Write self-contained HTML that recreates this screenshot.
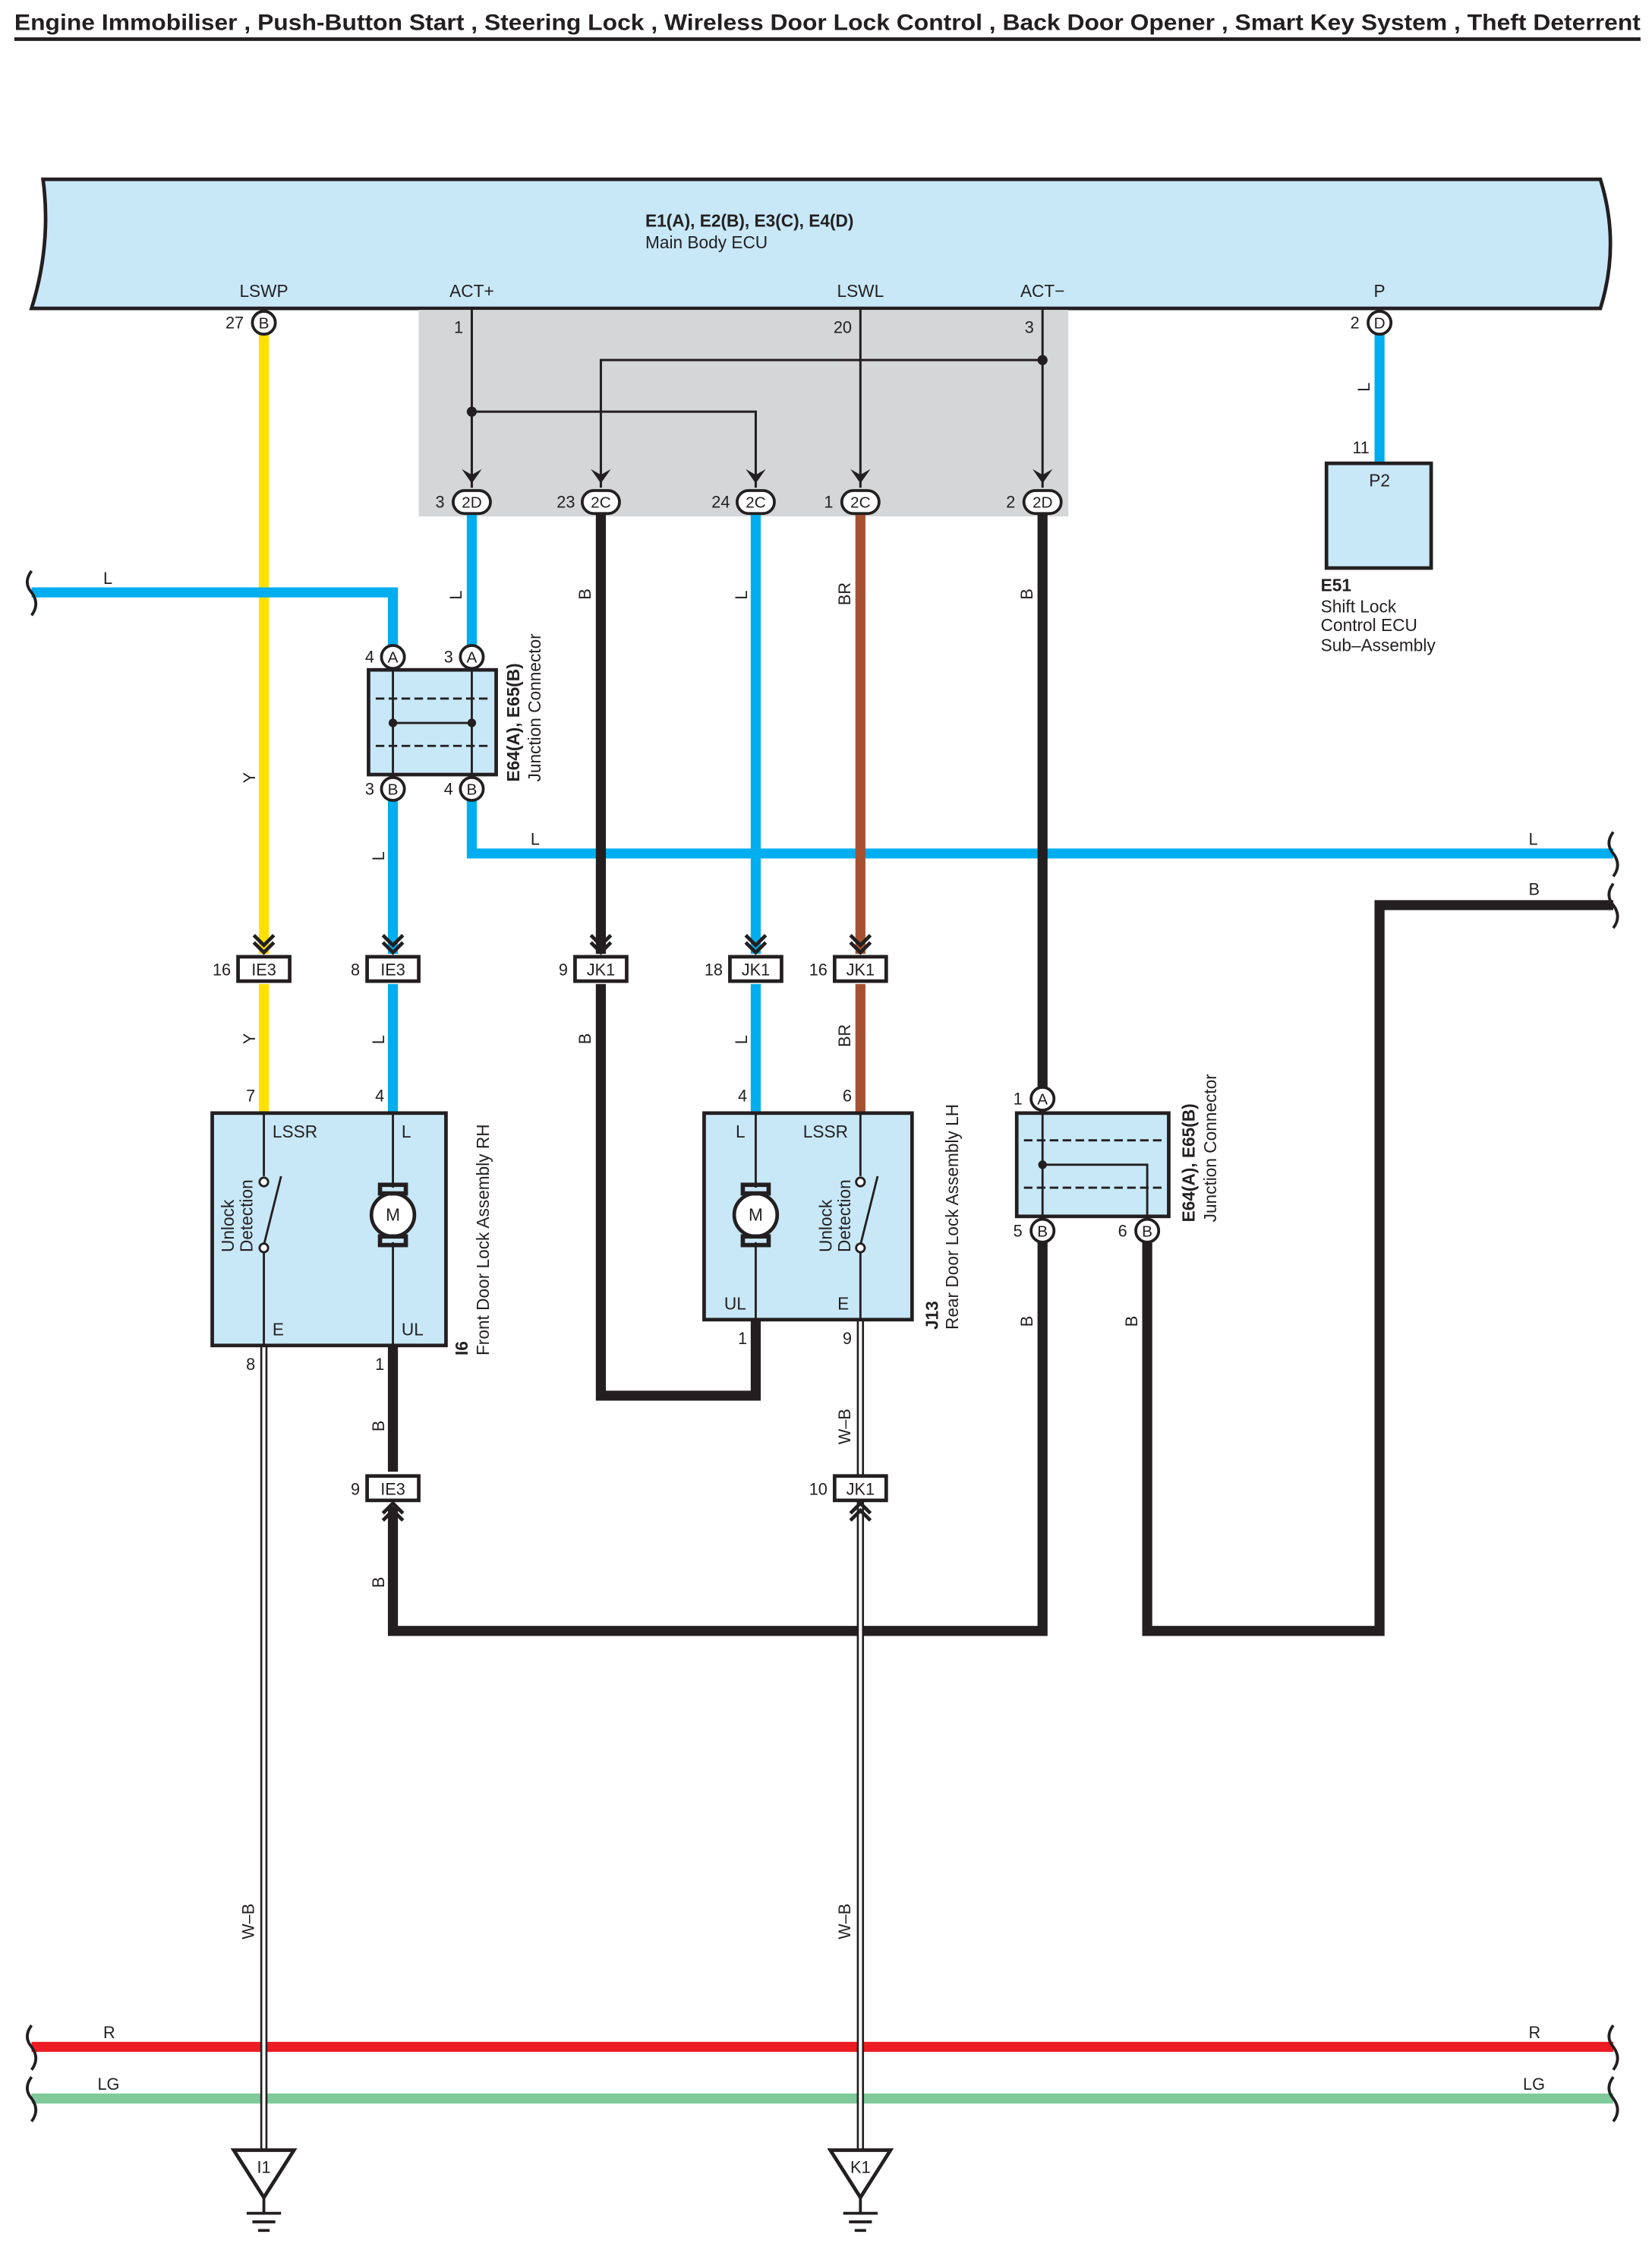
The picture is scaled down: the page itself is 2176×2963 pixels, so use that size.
<!DOCTYPE html>
<html><head><meta charset="utf-8"><style>
html,body{margin:0;padding:0;background:#fff}
svg{display:block}
text{font-family:"Liberation Sans",sans-serif;fill:#231f20}
</style></head><body>
<svg width="2176" height="2963" viewBox="0 0 1152 1568.6" xmlns="http://www.w3.org/2000/svg">
<defs>
<g id="chev"><path d="M-7,-14 L0,-7 L7,-14 M-7,-9 L0,-2 L7,-9" fill="none" stroke="#231f20" stroke-width="2.5"/></g>
<g id="chevup"><path d="M-7,14 L0,7 L7,14 M-7,9 L0,2 L7,9" fill="none" stroke="#231f20" stroke-width="2.5"/></g>
</defs>
<text x="10" y="21" font-size="15.5" font-weight="bold" textLength="1134" lengthAdjust="spacingAndGlyphs">Engine Immobiliser , Push-Button Start , Steering Lock , Wireless Door Lock Control , Back Door Opener , Smart Key System , Theft Deterrent</text>
<rect x="10" y="26" width="1134" height="2.5" fill="#231f20"/>

<path d="M30,125 L1116,125 Q1130,170 1116,215 L22,215 Q36,170 30,125 Z" fill="#c8e8f8" stroke="#231f20" stroke-width="2.5"/>
<text x="450" y="158" font-size="12" font-weight="bold">E1(A), E2(B), E3(C), E4(D)</text>
<text x="450" y="173" font-size="12">Main Body ECU</text>
<g font-size="12" text-anchor="middle">
<text x="184" y="207">LSWP</text><text x="329" y="207">ACT+</text><text x="600" y="207">LSWL</text><text x="727" y="207">ACT−</text><text x="962" y="207">P</text>
</g>
<rect x="292" y="216" width="453" height="144" fill="#d4d6d8"/>

<g fill="none" stroke-width="7" stroke-linejoin="miter">
<path d="M184,232 V665 M184,686 V776" stroke="#ffe000"/>
<path d="M962,232 V322" stroke="#00aeef"/>
<path d="M22,413 H274 V450 M329,357 V450 M274,558 V665 M274,686 V776 M329,558 V595 H1125 M527,357 V665 M527,686 V776" stroke="#00aeef"/>
<path d="M600,357 V665 M600,686 V776" stroke="#a65232"/>
<path d="M419,357 V665 M419,686 V973 H527 V920 M727,357 V758 M727,866 V1137 H274 V1050 M274,938 V1026 M800,866 V1137 H962 V631 H1125" stroke="#231f20"/>
<path d="M22,1427 H1125" stroke="#ed1c24"/>
<path d="M22,1463 H1125" stroke="#80c99a"/>
</g>
<g fill="none">
<path d="M184,938 V1500 M600,920 V1028 M600,1047 V1500" stroke="#231f20" stroke-width="5"/>
<path d="M184,938 V1500 M600,920 V1028 M600,1047 V1500" stroke="#fff" stroke-width="2.2"/>
</g>
<g fill="none" stroke="#231f20" stroke-width="1.6">
<path d="M329,216 V340 M600,216 V340 M727,216 V340 M329,287 H527 V340 M727,251 H419 V340"/>
</g>
<circle cx="329" cy="287" r="3.5" fill="#231f20"/><circle cx="727" cy="251" r="3.5" fill="#231f20"/>
<g fill="#231f20"><path d="M322,327 L329,337 L336,327 L329,331Z"/>
<path d="M412,327 L419,337 L426,327 L419,331Z"/><path d="M520,327 L527,337 L534,327 L527,331Z"/><path d="M593,327 L600,337 L607,327 L600,331Z"/><path d="M720,327 L727,337 L734,327 L727,331Z"/></g>
<g font-size="11.5" text-anchor="end">
<text x="323" y="232">1</text><text x="594" y="232">20</text><text x="721" y="232">3</text>
</g>

<g font-size="11" text-anchor="middle">
<g stroke="#231f20" stroke-width="2" fill="#fff">
<circle cx="184" cy="225" r="8"/><circle cx="962" cy="225" r="8"/>
<circle cx="274" cy="458" r="8"/><circle cx="329" cy="458" r="8"/>
<circle cx="274" cy="550" r="8"/><circle cx="329" cy="550" r="8"/>
<circle cx="727" cy="766" r="8"/><circle cx="727" cy="858" r="8"/><circle cx="800" cy="858" r="8"/>
<rect x="316" y="342" width="26" height="16" rx="8"/><rect x="406" y="342" width="26" height="16" rx="8"/>
<rect x="514" y="342" width="26" height="16" rx="8"/><rect x="587" y="342" width="26" height="16" rx="8"/>
<rect x="714" y="342" width="26" height="16" rx="8"/>
</g>
<text x="184" y="229">B</text><text x="962" y="229">D</text>
<text x="274" y="462">A</text><text x="329" y="462">A</text><text x="274" y="554">B</text><text x="329" y="554">B</text>
<text x="727" y="770">A</text><text x="727" y="862">B</text><text x="800" y="862">B</text>
<text x="329" y="354">2D</text><text x="419" y="354">2C</text><text x="527" y="354">2C</text><text x="600" y="354">2C</text><text x="727" y="354">2D</text>
</g>
<g font-size="11.5" text-anchor="end">
<text x="170" y="229">27</text><text x="948" y="229">2</text><text x="955" y="316">11</text>
<text x="310" y="354">3</text><text x="401" y="354">23</text><text x="509" y="354">24</text><text x="581" y="354">1</text><text x="708" y="354">2</text>
<text x="261" y="462">4</text><text x="316" y="462">3</text><text x="261" y="554">3</text><text x="316" y="554">4</text>
<text x="713" y="770">1</text><text x="713" y="862">5</text><text x="786" y="862">6</text>
<text x="178" y="768">7</text><text x="268" y="768">4</text><text x="521" y="768">4</text><text x="594" y="768">6</text>
<text x="178" y="955">8</text><text x="268" y="955">1</text><text x="521" y="937">1</text><text x="594" y="937">9</text>
</g>

<rect x="925" y="323" width="73" height="73" fill="#c8e8f8" stroke="#231f20" stroke-width="2.5"/>
<text x="962" y="339" font-size="12" text-anchor="middle">P2</text>
<text x="921" y="412" font-size="12" font-weight="bold">E51</text>
<text x="921" y="427" font-size="12">Shift Lock</text>
<text x="921" y="440" font-size="12">Control ECU</text>
<text x="921" y="454" font-size="12">Sub–Assembly</text>

<rect x="257" y="467" width="89" height="73" fill="#c8e8f8" stroke="#231f20" stroke-width="2.5"/>
<g stroke="#231f20" stroke-width="1.5" fill="none"><path d="M262,487 H341 M262,520 H341" stroke-dasharray="6,3"/><path d="M274,467 V540 M329,467 V540 M274,504 H329"/></g>
<circle cx="274" cy="504" r="3" fill="#231f20"/><circle cx="329" cy="504" r="3" fill="#231f20"/>
<rect x="709" y="776" width="106" height="72" fill="#c8e8f8" stroke="#231f20" stroke-width="2.5"/>
<g stroke="#231f20" stroke-width="1.5" fill="none"><path d="M714,795 H810 M714,828 H810" stroke-dasharray="6,3"/><path d="M727,776 V848 M727,812 H800 V848"/></g>
<circle cx="727" cy="812" r="3" fill="#231f20"/>
<g font-size="12">
<text transform="translate(362,545) rotate(-90)" font-weight="bold">E64(A), E65(B)</text>
<text transform="translate(377,545) rotate(-90)">Junction Connector</text>
<text transform="translate(833,852) rotate(-90)" font-weight="bold">E64(A), E65(B)</text>
<text transform="translate(848,852) rotate(-90)">Junction Connector</text>
</g>

<g font-size="11.5">
<g><use href="#chev" x="184" y="666"/><use href="#chev" x="274" y="666"/><use href="#chev" x="419" y="666"/><use href="#chev" x="527" y="666"/><use href="#chev" x="600" y="666"/>
<use href="#chevup" x="274" y="1046"/><use href="#chevup" x="600" y="1046"/></g>
<g fill="#fff" stroke="#231f20" stroke-width="2.5">
<rect x="166" y="667" width="36" height="17"/><rect x="256" y="667" width="36" height="17"/><rect x="401" y="667" width="36" height="17"/><rect x="509" y="667" width="36" height="17"/><rect x="582" y="667" width="36" height="17"/>
<rect x="256" y="1029" width="36" height="17"/><rect x="582" y="1029" width="36" height="17"/>
</g>
<g text-anchor="middle">
<text x="184" y="680">IE3</text><text x="274" y="680">IE3</text><text x="419" y="680">JK1</text><text x="527" y="680">JK1</text><text x="600" y="680">JK1</text>
<text x="274" y="1042">IE3</text><text x="600" y="1042">JK1</text></g>
<g text-anchor="end"><text x="161" y="680">16</text><text x="251" y="680">8</text><text x="396" y="680">9</text><text x="504" y="680">18</text><text x="577" y="680">16</text>
<text x="251" y="1042">9</text><text x="577" y="1042">10</text></g>
</g>

<rect x="148" y="776" width="163" height="162" fill="#c8e8f8" stroke="#231f20" stroke-width="2.5"/>
<rect x="491" y="776" width="145" height="144" fill="#c8e8f8" stroke="#231f20" stroke-width="2.5"/>
<g stroke="#231f20" stroke-width="1.5" fill="none">
<path d="M184,776 V820 M184,868 V938 M184,868 L196,820 M274,776 V828 M274,866 V938"/>
<path d="M600,776 V820 M600,868 V920 M600,868 L612,820 M527,776 V828 M527,866 V920"/>
</g>
<g fill="#fff" stroke="#231f20" stroke-width="1.5"><circle cx="184" cy="824" r="3"/><circle cx="184" cy="870" r="3"/><circle cx="600" cy="824" r="3"/><circle cx="600" cy="870" r="3"/></g>
<g stroke="#231f20" stroke-width="2.5" fill="#fff"><circle cx="274" cy="847" r="15"/><circle cx="527" cy="847" r="15"/></g>
<g stroke="#231f20" stroke-width="3" fill="none"><rect x="265" y="826" width="18" height="6"/><rect x="265" y="862" width="18" height="6"/><rect x="518" y="826" width="18" height="6"/><rect x="518" y="862" width="18" height="6"/></g>
<g font-size="12">
<text x="274" y="851" text-anchor="middle">M</text><text x="527" y="851" text-anchor="middle">M</text>
<text x="190" y="793">LSSR</text><text x="280" y="793">L</text><text x="190" y="931">E</text><text x="280" y="931">UL</text>
<text x="513" y="793">L</text><text x="560" y="793">LSSR</text><text x="505" y="913">UL</text><text x="584" y="913">E</text>
<text transform="translate(163,873) rotate(-90)">Unlock</text><text transform="translate(176,873) rotate(-90)">Detection</text>
<text transform="translate(580,873) rotate(-90)">Unlock</text><text transform="translate(593,873) rotate(-90)">Detection</text>
<text transform="translate(326,945) rotate(-90)" font-weight="bold">I6</text>
<text transform="translate(341,945) rotate(-90)">Front Door Lock Assembly RH</text>
<text transform="translate(654,927) rotate(-90)" font-weight="bold">J13</text>
<text transform="translate(668,927) rotate(-90)">Rear Door Lock Assembly LH</text>
</g>

<g font-size="11.5">
<text x="72" y="407">L</text><text x="370" y="589">L</text><text x="1066" y="589">L</text><text x="1066" y="624">B</text>
<text x="72" y="1421">R</text><text x="1066" y="1421">R</text><text x="68" y="1457">LG</text><text x="1062" y="1457">LG</text>
<text transform="translate(955,273) rotate(-90)">L</text>
<text transform="translate(178,546) rotate(-90)">Y</text><text transform="translate(178,728) rotate(-90)">Y</text>
<text transform="translate(322,418) rotate(-90)">L</text><text transform="translate(268,600) rotate(-90)">L</text><text transform="translate(268,728) rotate(-90)">L</text>
<text transform="translate(412,418) rotate(-90)">B</text><text transform="translate(412,728) rotate(-90)">B</text>
<text transform="translate(521,418) rotate(-90)">L</text><text transform="translate(521,728) rotate(-90)">L</text>
<text transform="translate(593,422) rotate(-90)">BR</text><text transform="translate(593,730) rotate(-90)">BR</text>
<text transform="translate(720,418) rotate(-90)">B</text><text transform="translate(720,925) rotate(-90)">B</text>
<text transform="translate(793,925) rotate(-90)">B</text>
<text transform="translate(268,998) rotate(-90)">B</text><text transform="translate(268,1107) rotate(-90)">B</text>
<text transform="translate(593,1007) rotate(-90)">W–B</text>
<text transform="translate(177,1352) rotate(-90)">W–B</text><text transform="translate(593,1352) rotate(-90)">W–B</text>
</g>

<g fill="none" stroke="#231f20" stroke-width="2">
<path d="M22,398 q-6,8 0,15 q6,8 0,16"/>
<path d="M22,1412 q-6,8 0,15 q6,8 0,16"/><path d="M22,1448 q-6,8 0,15 q6,8 0,16"/>
<path d="M1125,580 q-6,8 0,15 q6,8 0,16"/><path d="M1125,616 q-6,8 0,15 q6,8 0,16"/>
<path d="M1125,1412 q-6,8 0,15 q6,8 0,16"/><path d="M1125,1448 q-6,8 0,15 q6,8 0,16"/>
</g>

<g stroke="#231f20" stroke-width="2.5" fill="#fff">
<path d="M163,1499 H205 L184,1532 Z"/><path d="M579,1499 H621 L600,1532 Z"/>
</g>
<g stroke="#231f20" stroke-width="2"><path d="M184,1532 V1542 M172,1543 H196 M176,1549 H192 M180,1555 H188 M600,1532 V1542 M588,1543 H612 M592,1549 H608 M596,1555 H604"/></g>
<g font-size="11.5" text-anchor="middle"><text x="184" y="1515">I1</text><text x="600" y="1515">K1</text></g>
</svg>
</body></html>
